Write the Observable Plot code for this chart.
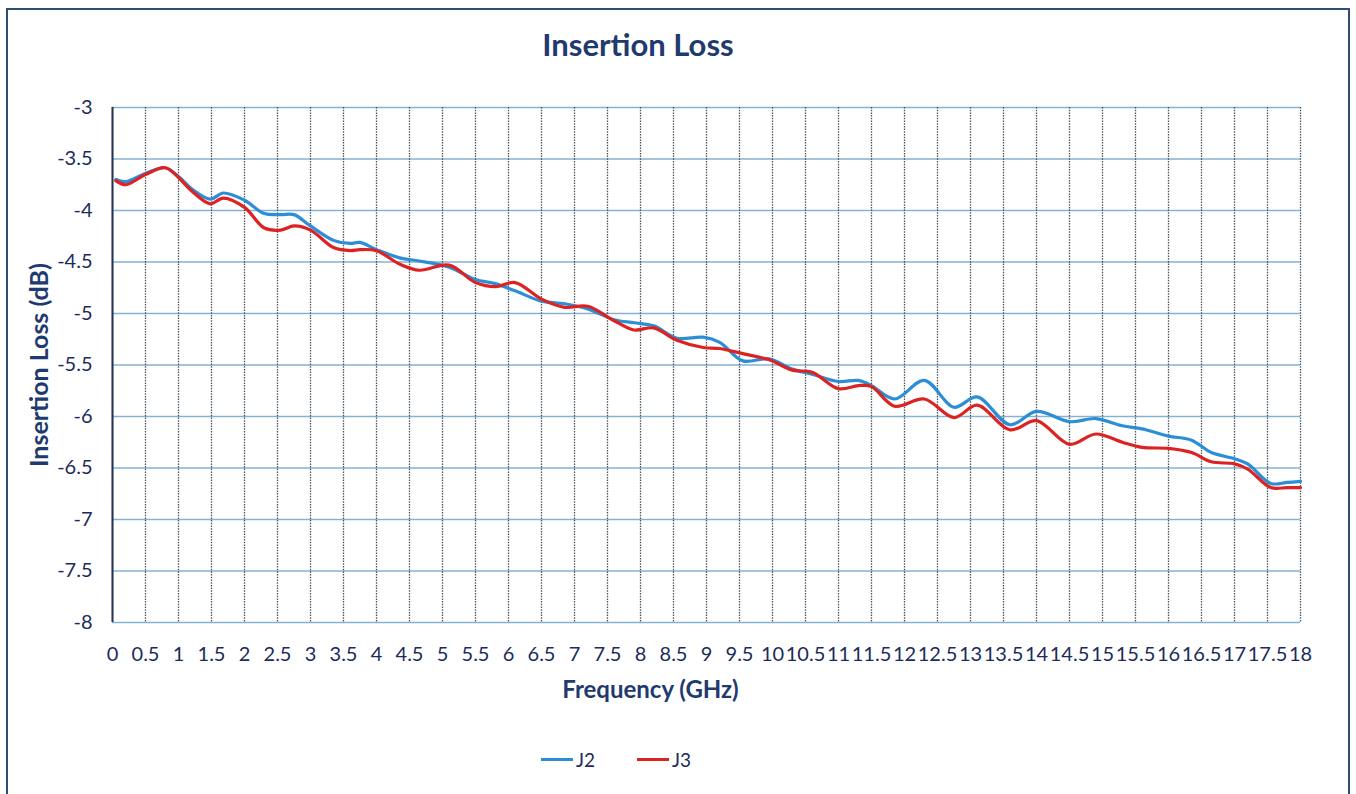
<!DOCTYPE html>
<html>
<head>
<meta charset="utf-8">
<script src="https://cdn.jsdelivr.net/npm/d3@7"></script>
<script src="https://cdn.jsdelivr.net/npm/@observablehq/plot@0.6"></script>
<style>
  html, body { margin: 0; padding: 0; background: #fff; }
  #wrap { position: relative; width: 1356px; height: 794px; overflow: hidden; font-family: Lato, "Open Sans", sans-serif; }
  #frame { position: absolute; left: 6px; top: 8px; width: 1344px; height: 820px; border: 2px solid #2f4f72; box-sizing: border-box; }
  #title { position: absolute; top: 25px; left: 0; width: 1276px; text-align: center; font-size: 31px; font-weight: bold; color: #1f3a6e; }
  #chart { position: absolute; left: 0; top: 0; }
  #legend { position: absolute; top: 748px; left: 541px; display: flex; align-items: center; font-size: 19px; color: #1c2b5c; }
  .sw { display: inline-block; width: 32px; height: 3px; margin-right: 3px; }
  svg text { fill: #1c2b5c; }
  g[aria-label="y-axis label"] text { font-weight: bold; font-size: 25px; fill: #1f3a6e; }
  .xlab text { font-weight: bold; font-size: 24px; fill: #1f3a6e; }
</style>
</head>
<body>
<div id="wrap">
  <div id="frame"></div>
  <div id="title">Insertion Loss</div>
  <div id="chart"></div>
  <div id="legend">
    <span class="sw" style="background:#2b8ed6"></span><span style="margin-right:42px">J2</span>
    <span class="sw" style="background:#dd2222"></span><span>J3</span>
  </div>
</div>
<script>
// Frequency (GHz)
const frequency = [0.05, 0.2, 0.5, 0.8, 1.0, 1.2, 1.48, 1.68, 2.0, 2.3, 2.55, 2.75, 3.0, 3.35, 3.6, 3.75, 4.0, 4.35, 4.65, 5.1, 5.5, 5.8, 6.1, 6.5, 6.85, 7.2, 7.6, 7.9, 8.2, 8.55, 8.95, 9.2, 9.55, 9.95, 10.3, 10.6, 11.0, 11.3, 11.5, 11.85, 12.3, 12.75, 13.1, 13.6, 14.0, 14.5, 14.9, 15.3, 15.6, 16.0, 16.35, 16.65, 17.0, 17.2, 17.55, 17.8, 18.0];
// Insertion loss (dB)
const j2 = [-3.70, -3.72, -3.64, -3.585, -3.67, -3.79, -3.89, -3.83, -3.90, -4.03, -4.04, -4.04, -4.15, -4.29, -4.32, -4.31, -4.38, -4.46, -4.49, -4.55, -4.67, -4.71, -4.78, -4.88, -4.905, -4.955, -5.06, -5.09, -5.12, -5.24, -5.23, -5.28, -5.46, -5.44, -5.54, -5.59, -5.66, -5.65, -5.70, -5.83, -5.65, -5.91, -5.81, -6.08, -5.95, -6.05, -6.02, -6.09, -6.12, -6.19, -6.23, -6.35, -6.41, -6.46, -6.65, -6.64, -6.63];
const j3 = [-3.71, -3.75, -3.65, -3.585, -3.68, -3.81, -3.935, -3.88, -3.97, -4.17, -4.19, -4.15, -4.19, -4.36, -4.39, -4.38, -4.39, -4.52, -4.58, -4.53, -4.70, -4.74, -4.70, -4.86, -4.94, -4.93, -5.07, -5.16, -5.14, -5.26, -5.33, -5.34, -5.39, -5.45, -5.55, -5.57, -5.73, -5.70, -5.71, -5.90, -5.83, -6.01, -5.89, -6.13, -6.04, -6.27, -6.17, -6.25, -6.30, -6.31, -6.35, -6.44, -6.46, -6.51, -6.69, -6.69, -6.69];
const seriesNames = ["J2", "J3"];
const seriesColors = ["#2b8ed6", "#dd2222"];
const xTicks = d3.range(0, 18.01, 0.5);
const yTicks = d3.range(-8, -2.99, 0.5);

const data = [];
frequency.forEach((f, i) => {
  data.push({series: "J2", f, v: j2[i]});
  data.push({series: "J3", f, v: j3[i]});
});

const chart = Plot.plot({
  width: 1356,
  height: 720,
  marginLeft: 112,
  marginRight: 56,
  marginTop: 107,
  marginBottom: 98,
  style: {fontFamily: "Lato, 'Open Sans', sans-serif", fontSize: "19px", background: "transparent"},
  x: {domain: [0, 18]},
  y: {domain: [-8, -3]},
  color: {domain: seriesNames, range: seriesColors},
  marks: [
    Plot.gridY(yTicks, {stroke: "#86b2d2", strokeOpacity: 1, strokeWidth: 1.3}),
    Plot.gridX(xTicks, {stroke: "#37424d", strokeOpacity: 0.9, strokeWidth: 1.3, strokeDasharray: "1.5,1.2"}),
    Plot.ruleX([0], {stroke: "#1f3550", strokeWidth: 2}),
    Plot.axisX(xTicks, {tickSize: 0, tickPadding: 24, fontSize: 20, tickFormat: d => String(d), label: null}),
    Plot.axisY(yTicks, {tickSize: 0, tickPadding: 20, fontSize: 20, tickFormat: d => String(d), label: "Insertion Loss (dB)", labelAnchor: "center", labelArrow: "none", labelOffset: 82}),
    Plot.text(["Frequency (GHz)"], {frameAnchor: "bottom", dx: -56, dy: 75, className: "xlab"}),
    Plot.line(data, {x: "f", y: "v", z: "series", stroke: "series", strokeWidth: 3.2, curve: "catmull-rom"})
  ]
});
document.getElementById("chart").appendChild(chart);
</script>
</body>
</html>
